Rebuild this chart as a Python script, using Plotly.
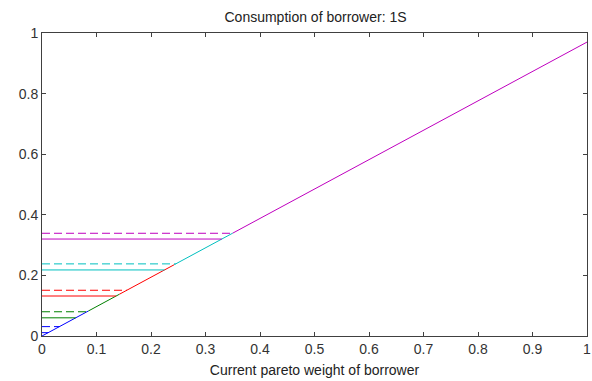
import plotly.graph_objects as go

# Data
slope = 0.97
colors = ["#0000ff", "#008000", "#ff0000", "#00bfbf", "#bf00bf"]
solid_levels = [0.011, 0.060, 0.132, 0.218, 0.320]
dashed_levels = [0.031, 0.080, 0.151, 0.238, 0.339]
diag_breaks = [0.0, 0.085, 0.142, 0.243, 0.350, 1.0]
x_ticks = [0, 0.1, 0.2, 0.3, 0.4, 0.5, 0.6, 0.7, 0.8, 0.9, 1]
x_tick_text = ["0", "0.1", "0.2", "0.3", "0.4", "0.5", "0.6", "0.7", "0.8", "0.9", "1"]
y_ticks = [0, 0.2, 0.4, 0.6, 0.8, 1]
y_tick_text = ["0", "0.2", "0.4", "0.6", "0.8", "1"]

fig = go.Figure()
for i, c in enumerate(colors):
    # diagonal piece
    x0, x1 = diag_breaks[i], diag_breaks[i + 1]
    fig.add_trace(go.Scatter(x=[x0, x1], y=[slope * x0, slope * x1], mode="lines",
                             line=dict(color=c, width=1), showlegend=False, hoverinfo="skip"))
    # solid horizontal
    s = solid_levels[i]
    fig.add_trace(go.Scatter(x=[0, s / slope], y=[s, s], mode="lines",
                             line=dict(color=c, width=1), showlegend=False, hoverinfo="skip"))
    # dashed horizontal
    d = dashed_levels[i]
    fig.add_trace(go.Scatter(x=[0, d / slope], y=[d, d], mode="lines",
                             line=dict(color=c, width=1, dash="8px,4px"), showlegend=False, hoverinfo="skip"))

axis_common = dict(showgrid=False, zeroline=False, showline=True, linecolor="#404040",
                   linewidth=1, mirror="ticks", ticks="inside", ticklen=4, tickcolor="#404040",
                   ticklabeloverflow="allow", automargin=False,
                   tickfont=dict(family="Liberation Sans, Arial", size=14, color="#333333"))

fig.update_layout(
    width=592, height=381,
    margin=dict(l=42, r=5, t=33, b=45),
    paper_bgcolor="white", plot_bgcolor="white",
    title=dict(text="Consumption of borrower: 1S", x=0.533, xanchor="center", y=0.955, yanchor="middle",
               font=dict(family="Liberation Sans, Arial", size=14, color="#222222")),
    xaxis=dict(range=[0, 1], tickvals=x_ticks, ticktext=x_tick_text,
               title=dict(text="Current pareto weight of borrower", standoff=9,
                          font=dict(family="Liberation Sans, Arial", size=14, color="#222222")),
               **axis_common),
    yaxis=dict(range=[0, 1], tickvals=y_ticks, ticktext=y_tick_text, **axis_common),
)

fig.write_html("out.html")
